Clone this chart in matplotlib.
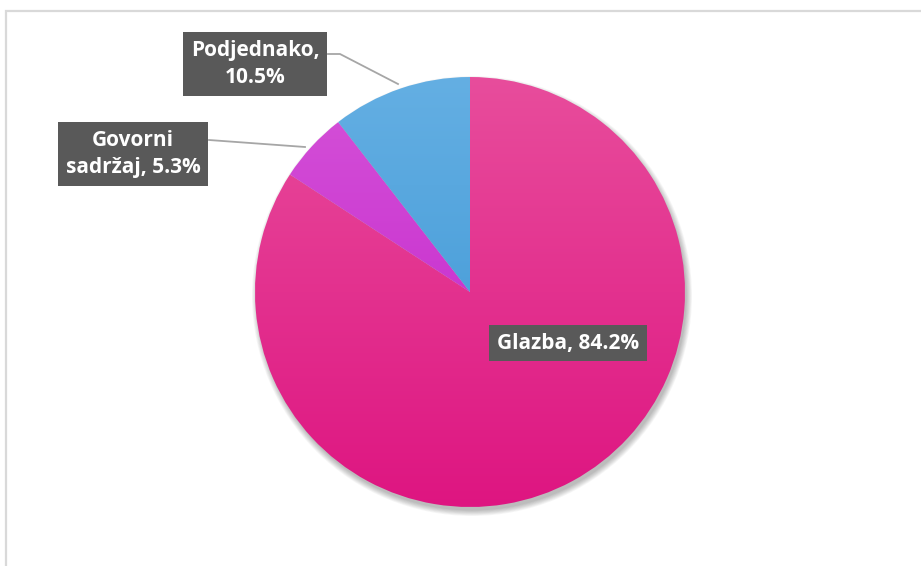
import numpy as np
import matplotlib.pyplot as plt
from matplotlib.patches import Rectangle, Circle
from matplotlib.colors import LinearSegmentedColormap

# data
labels = ["Glazba, 84.2%", "Govorni\nsadržaj, 5.3%", "Podjednako,\n10.5%"]
shares = [84.2, 5.3, 10.5]
# gradient colours (top, bottom)
grads = [("#E84D9C", "#DE1581"), ("#D553D8", "#C01BC9"), ("#64AFE3", "#3893D3")]

W, H = 921, 566
fig = plt.figure(figsize=(W / 100, H / 100), dpi=100)
ax = fig.add_axes([0, 0, 1, 1])

cx, cy, R = 470, H - 292, 215

# soft shadow under the pie
for i in range(8):
    ax.add_patch(Circle((cx + 2, cy - 4), R + 5 - i * 0.8, color="black",
                        alpha=0.035, lw=0, zorder=1))

wedges, _ = ax.pie(shares, startangle=90, counterclock=False, center=(cx, cy),
                   radius=R, wedgeprops=dict(linewidth=0, zorder=2))

grad = np.linspace(0, 1, 256).reshape(-1, 1)
for w, (c1, c2) in zip(wedges, grads):
    w.set_facecolor("none")
    cmap = LinearSegmentedColormap.from_list("g", [c1, c2])
    im = ax.imshow(grad, cmap=cmap, extent=(cx - R, cx + R, cy - R, cy + R),
                   origin="upper", aspect="auto", zorder=2, interpolation="bilinear")
    im.set_clip_path(w)

# chart frame
ax.add_patch(Rectangle((6, -20), W + 40, H - 11 + 20, fill=False,
                       edgecolor="#D9D9D9", lw=1.6, zorder=0))

# leader lines
ax.plot([328, 340, 398], [H - 54, H - 54, H - 84], color="#A6A6A6", lw=1.3, zorder=3)
ax.plot([209, 305], [H - 140, H - 147], color="#A6A6A6", lw=1.3, zorder=3)

box = dict(boxstyle="square,pad=0.36", facecolor="#595959", edgecolor="none")
font = dict(color="white", fontsize=15, fontweight="bold", family=["Open Sans", "DejaVu Sans"],
            ha="center", va="center", linespacing=1.4, zorder=5, bbox=box)
ax.text(568, H - 343, labels[0], **font)
ax.text(133, H - 154, labels[1], **font)
ax.text(255, H - 64, labels[2], **font)

ax.set_xlim(0, W)
ax.set_ylim(0, H)
ax.set_aspect("auto")
ax.axis("off")
fig.savefig("out.png", dpi=100, facecolor="white")
